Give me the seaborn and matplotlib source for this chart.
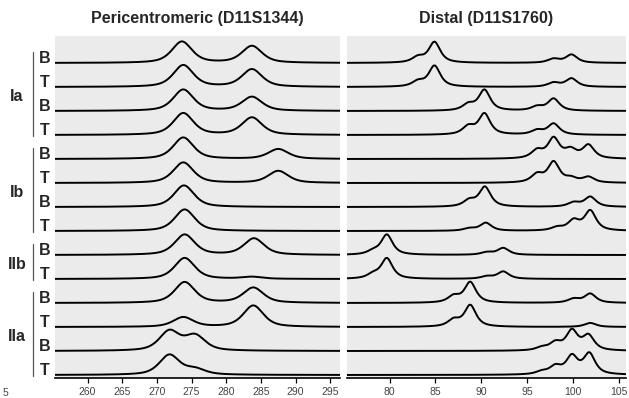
import numpy as np
import pandas as pd
import matplotlib.pyplot as plt
import seaborn as sns
from matplotlib import transforms
from matplotlib import font_manager as fm

# peak lists per trace: (size, apparent height in row units), top trace first
row_letters = ["B", "T", "B", "T", "B", "T", "B", "T", "B", "T", "B", "T", "B", "T"]
groups = ["Ia", "Ib", "IIb", "IIa"]
group_sizes = [4, 4, 2, 4]

peri_peaks = [
    [(273.6, 0.90), (283.7, 0.72)],
    [(273.8, 0.92), (283.7, 0.75)],
    [(273.8, 0.90), (283.7, 0.60)],
    [(273.8, 0.92), (283.7, 0.74)],
    [(273.8, 0.90), (287.5, 0.42)],
    [(273.8, 0.86), (287.5, 0.51)],
    [(273.9, 0.90)],
    [(274.0, 0.90)],
    [(274.0, 0.86), (284.0, 0.70)],
    [(274.0, 0.88), (283.7, 0.10)],
    [(274.0, 0.88), (283.9, 0.65)],
    [(273.8, 0.42), (283.9, 0.90)],
    [(271.8, 0.89), (275.5, 0.72)],
    [(271.8, 0.86), (275.5, 0.33)],
]

distal_peaks = [
    [(83.1, 0.33), (84.9, 0.89), (97.9, 0.20), (99.85, 0.36)],
    [(83.1, 0.32), (84.9, 0.90), (97.9, 0.21), (99.85, 0.37)],
    [(88.6, 0.37), (90.35, 0.90), (96.1, 0.24), (97.9, 0.53)],
    [(88.6, 0.45), (90.35, 0.92), (96.1, 0.25), (97.9, 0.49)],
    [(96.1, 0.45), (97.9, 0.93), (99.75, 0.51), (101.7, 0.62)],
    [(96.1, 0.45), (97.9, 0.92), (99.8, 0.30), (101.7, 0.28)],
    [(88.7, 0.37), (90.4, 0.86), (100.1, 0.23), (101.9, 0.44)],
    [(88.7, 0.14), (90.5, 0.35), (98.3, 0.21), (100.1, 0.53), (101.9, 0.88)],
    [(78.2, 0.28), (79.7, 0.86), (90.6, 0.14), (92.4, 0.30)],
    [(78.2, 0.32), (79.7, 0.88), (90.6, 0.14), (92.4, 0.32)],
    [(87.0, 0.37), (88.8, 0.89), (100.1, 0.21), (101.9, 0.40)],
    [(87.0, 0.39), (88.8, 0.93), (101.9, 0.17)],
    [(96.6, 0.21), (98.1, 0.45), (99.9, 0.93), (101.7, 0.72)],
    [(96.6, 0.21), (98.1, 0.46), (99.9, 0.88), (101.8, 0.95)],
]

peri_ticks = [260, 265, 270, 275, 280, 285, 290, 295]
distal_ticks = [80, 85, 90, 95, 100, 105]


def shape(x, c, g, s, eta):
    lor = 1.0 / (1.0 + ((x - c) / g) ** 2)
    gau = np.exp(-0.5 * ((x - c) / s) ** 2)
    return eta * lor + (1 - eta) * gau


def trace(x, peaks, g, s, eta):
    pos = np.array([p for p, _ in peaks])
    h = np.array([v for _, v in peaks])
    m = shape(pos[:, None], pos[None, :], g, s, eta)
    amp = np.clip(np.linalg.solve(m, h), 0, None)
    return sum(a * shape(x, c, g, s, eta) for a, c in zip(amp, pos))


def make_df(peaks, xlim, g, s, eta):
    x = np.linspace(xlim[0], xlim[1], 800)
    n = len(peaks)
    parts = []
    for i, pk in enumerate(peaks):
        parts.append(pd.DataFrame({"x": x, "y": (n - 1 - i) + trace(x, pk, g, s, eta), "trace": i}))
    return pd.concat(parts)


sns.set_style("white")
names = {f.name for f in fm.fontManager.ttflist}
plt.rcParams["font.family"] = ["Liberation Sans", "DejaVu Sans"]

fig = plt.figure(figsize=(6.29, 3.98), dpi=100)
ax1 = fig.add_axes([55 / 629, 20 / 398, 285 / 629, 342 / 398])
ax2 = fig.add_axes([346.5 / 629, 20 / 398, 279.5 / 629, 342 / 398])

panels = [
    (ax1, peri_peaks, (255.3, 296.4), (1.75, 1.45, 0.6), peri_ticks, "Pericentromeric (D11S1344)"),
    (ax2, distal_peaks, (75.3, 105.8), (0.75, 0.65, 0.8), distal_ticks, "Distal (D11S1760)"),
]

if "Liberation Sans Narrow" in names:
    title_font = dict(family=["Liberation Sans Narrow", "DejaVu Sans"], fontsize=14)
else:
    title_font = dict(family=["Liberation Sans", "DejaVu Sans"], fontsize=11.5)

for ax, peaks, xlim, (g, s, eta), ticks, title in panels:
    df = make_df(peaks, xlim, g, s, eta)
    sns.lineplot(data=df, x="x", y="y", units="trace", estimator=None,
                 color="black", lw=1.4, ax=ax, legend=False)
    ax.set_facecolor("#ebebeb")
    ax.set_xlim(*xlim)
    ax.set_ylim(-0.125, 14.125)
    ax.set_yticks([])
    ax.set_xticks(ticks)
    ax.set_xlabel("")
    ax.set_ylabel("")
    for sp in ["top", "left", "right"]:
        ax.spines[sp].set_visible(False)
    ax.spines["bottom"].set_color("black")
    ax.spines["bottom"].set_linewidth(1.2)
    ax.tick_params(axis="x", direction="out", length=3.5, width=0.9, color="black",
                   labelsize=7.5, labelcolor="#444444", pad=3, bottom=True)
    ax.set_title(title, fontweight="bold", pad=9, **title_font)

fig.text(3 / 629, 1 - 393 / 398, "5", fontsize=7.5, color="#444444", va="center")

# row and group labels on the left
tr = transforms.blended_transform_factory(fig.transFigure, ax1.transData)
n = len(row_letters)
for i, lab in enumerate(row_letters):
    ax1.text(45 / 629, n - 1 - i + 0.2, lab, transform=tr, ha="center", va="center",
             fontweight="bold", fontsize=11.5, clip_on=False)

start = 0
for grp, size in zip(groups, group_sizes):
    top = n - 1 - start
    bottom = n - size - start
    ax1.text(17 / 629, (top + bottom) / 2 + 0.12, grp, transform=tr, ha="center",
             va="center", fontweight="bold", fontsize=11.5, clip_on=False)
    ax1.plot([33 / 629, 33 / 629], [top + 0.45, bottom - 0.05], transform=tr,
             color="#555555", lw=0.9, clip_on=False)
    start += size

fig.savefig("out.png", dpi=100)
